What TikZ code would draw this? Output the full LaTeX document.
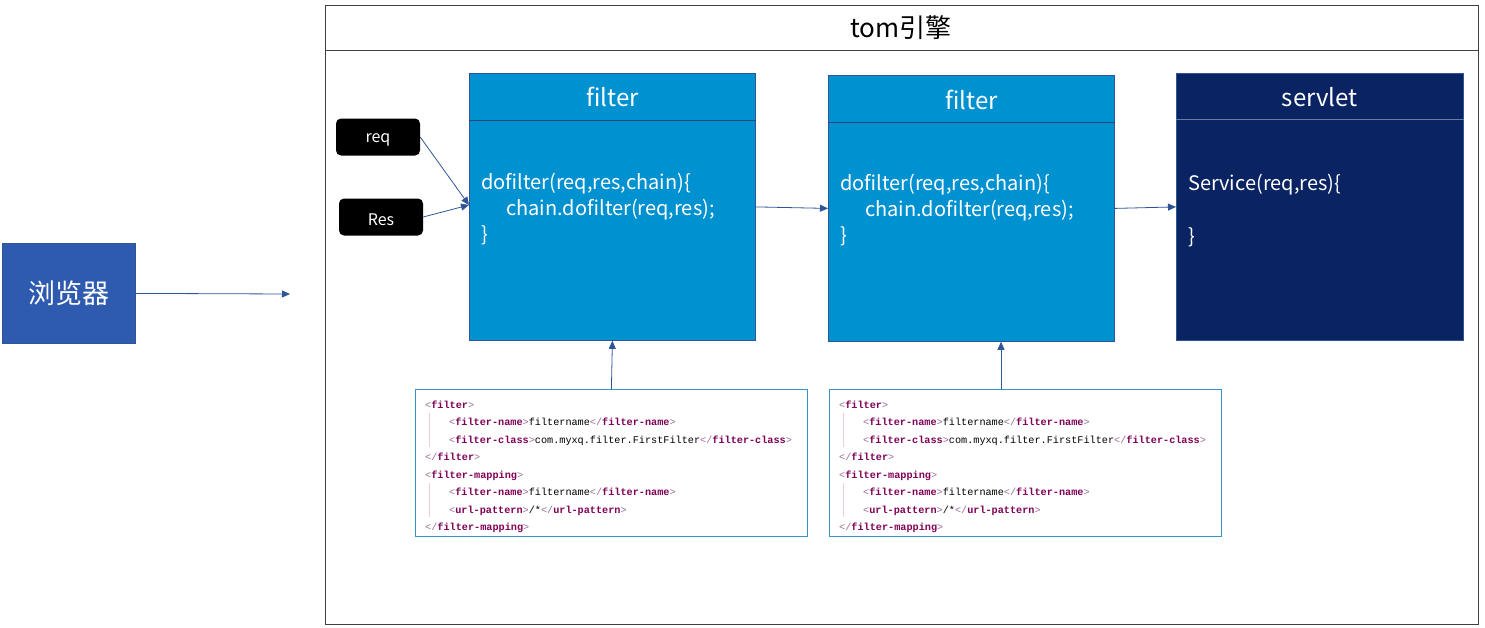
\documentclass[tikz,border=0pt]{standalone}
\usepackage{fontspec}
\setmainfont{Noto Sans CJK SC}
\newfontfamily\xmlfont{Liberation Mono}
\usetikzlibrary{calc,arrows.meta}
\definecolor{filterblue}{RGB}{0,145,208}
\definecolor{navy}{RGB}{10,35,98}
\definecolor{browserblue}{RGB}{46,91,175}
\definecolor{edgeblue}{RGB}{47,85,151}
\definecolor{tagc}{RGB}{127,0,85}
\definecolor{brc}{RGB}{150,110,150}
\definecolor{xmlborder}{RGB}{50,150,200}
\definecolor{guide}{RGB}{238,205,220}
\newcommand\otag[1]{\textcolor{brc}{<}\textcolor{tagc}{\bfseries #1}\textcolor{brc}{>}}
\newcommand\ctag[1]{\textcolor{brc}{</}\textcolor{tagc}{\bfseries #1}\textcolor{brc}{>}}
\begin{document}
\begin{tikzpicture}[x=1pt,y=-1pt,
  box/.style={draw=edgeblue, line width=0.8pt, anchor=north west, inner sep=0pt},
  hdr/.style={draw=edgeblue!80!black, line width=0.8pt},
  boxtitle/.style={text=white, font=\fontsize{24}{28}\selectfont},
  body/.style={text=white, font=\fontsize{20}{26}\selectfont, anchor=north west, align=left, inner sep=0pt},
  tag/.style={fill=black, rounded corners=5pt, minimum width=84pt, minimum height=37pt, inner sep=0pt},
  taglabel/.style={text=white, font=\fontsize{16}{18}\selectfont, inner sep=0pt},
  conn/.style={draw=edgeblue, line width=0.8pt, -{Triangle[length=8pt,width=7pt]}},
  xmlbox/.style={draw=xmlborder, line width=0.8pt, anchor=north west, minimum width=392pt, minimum height=147pt, inner sep=0pt},
  xml/.style={anchor=base west, inner sep=0pt, font=\xmlfont\fontsize{10.2}{12}\selectfont}
]
\useasboundingbox (0,0) rectangle (1485,627);

% engine frame
\node[draw=black!75, line width=0.8pt, anchor=north west, minimum width=1153pt, minimum height=619pt, inner sep=0pt] (eng) at (325,5) {};
\draw[black!75, line width=0.8pt] ($(eng.north west)+(0,45)$) -- ($(eng.north east)+(0,45)$);
\node[font=\fontsize{26}{30}\selectfont] (engtitle) at (901,28) {tom引擎};

% browser
\node[box, fill=browserblue, minimum width=133pt, minimum height=100pt] (br) at (2,243) {};
\node[text=white, font=\fontsize{27}{30}\selectfont] (brt) at (br.center) {浏览器};
\coordinate (brend) at (290,294);
\draw[conn] (br.east) -- (brend);

% filter 1
\node[box, fill=filterblue, minimum width=286pt, minimum height=267pt] (f1) at (469,73) {};
\draw[hdr] ($(f1.north west)+(0,47)$) -- ($(f1.north east)+(0,47)$);
\node[boxtitle] (f1t) at ($(f1.north)+(0,24)$) {filter};
\node[body] (f1b) at (481,173) {dofilter(req,res,chain)\{\\\hspace*{25pt}chain.dofilter(req,res);\\\}};

% filter 2
\node[box, fill=filterblue, minimum width=286pt, minimum height=266pt] (f2) at (828,75) {};
\draw[hdr] ($(f2.north west)+(0,47)$) -- ($(f2.north east)+(0,47)$);
\node[boxtitle] (f2t) at ($(f2.north)+(0,25)$) {filter};
\node[body] (f2b) at (840,174) {dofilter(req,res,chain)\{\\\hspace*{25pt}chain.dofilter(req,res);\\\}};

% servlet
\node[box, fill=navy, minimum width=287pt, minimum height=267pt] (sv) at (1176,73) {};
\draw[draw=white!40!navy, line width=0.8pt] ($(sv.north west)+(0,46)$) -- ($(sv.north east)+(0,46)$);
\node[boxtitle] (svt) at ($(sv.north)+(0,24)$) {servlet};
\node[body] (svb) at (1188,174) {Service(req,res)\{\\[27pt]\}};

% req / Res
\node[tag] (req) at (378,137) {};
\node[taglabel] (reqt) at ($(req.center)+(0,3)$) {req};
\node[tag] (res) at (381,217) {};
\node[taglabel] (rest) at ($(res.center)+(0,3)$) {Res};
\coordinate (f1in) at ($(f1.north west)+(0,132)$);
\draw[conn] (req.east) -- (f1in);
\draw[conn] (res.east) -- (f1in);

% chain arrows
\draw[conn] (f1.east) -- (f2.west);
\draw[conn] (f2.east) -- (sv.west);

% xml boxes
\node[xmlbox] (x1) at (415,389) {};
\node[xmlbox] (x2) at (829,389) {};
\draw[conn] (x1.north) -- (f1.south);
\coordinate (x2top) at ($(x2.north west)+(172,0)$);
\draw[conn] (x2top) -- (x2top |- f2.south);

\foreach \bx/\ox in {x1/0, x2/414} {
  \draw[guide, line width=0.8pt] (429+\ox,413) -- (429+\ox,447);
  \draw[guide, line width=0.8pt] (429+\ox,483) -- (429+\ox,517);
  \node[xml] (\bx l1) at (425+\ox,408) {\otag{filter}};
  \node[xml] (\bx l2) at (449+\ox,425.5) {\otag{filter-name}filtername\ctag{filter-name}};
  \node[xml] (\bx l3) at (449+\ox,443) {\otag{filter-class}com.myxq.filter.FirstFilter\ctag{filter-class}};
  \node[xml] (\bx l4) at (425+\ox,460.5) {\ctag{filter}};
  \node[xml] (\bx l5) at (425+\ox,478) {\otag{filter-mapping}};
  \node[xml] (\bx l6) at (449+\ox,495.5) {\otag{filter-name}filtername\ctag{filter-name}};
  \node[xml] (\bx l7) at (449+\ox,513) {\otag{url-pattern}/*\ctag{url-pattern}};
  \node[xml] (\bx l8) at (425+\ox,530.5) {\ctag{filter-mapping}};
}
\end{tikzpicture}
\end{document}
